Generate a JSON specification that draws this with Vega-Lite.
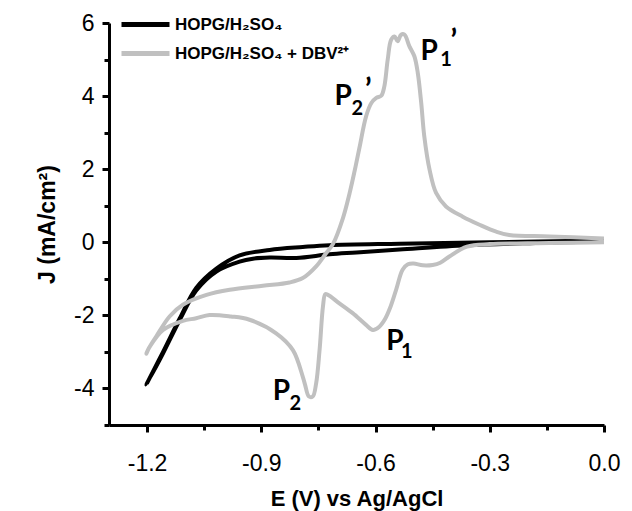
{
  "$schema": "https://vega.github.io/schema/vega-lite/v6.json",
  "width": 495,
  "height": 402,
  "autosize": {"type": "none"},
  "padding": {"left": 109, "top": 23, "right": 28, "bottom": 86},
  "background": "white",
  "config": {"view": {"stroke": null}, "font": "Liberation Sans"},
  "datasets": {
    "cv": [
      {"series": "HOPG/H₂SO₄", "i": 1, "E": 0.0, "J": 0.02},
      {"series": "HOPG/H₂SO₄", "i": 2, "E": -0.18, "J": -0.02},
      {"series": "HOPG/H₂SO₄", "i": 3, "E": -0.362, "J": -0.08},
      {"series": "HOPG/H₂SO₄", "i": 4, "E": -0.537, "J": -0.2},
      {"series": "HOPG/H₂SO₄", "i": 5, "E": -0.65, "J": -0.28},
      {"series": "HOPG/H₂SO₄", "i": 6, "E": -0.721, "J": -0.33},
      {"series": "HOPG/H₂SO₄", "i": 7, "E": -0.808, "J": -0.43},
      {"series": "HOPG/H₂SO₄", "i": 8, "E": -0.878, "J": -0.42},
      {"series": "HOPG/H₂SO₄", "i": 9, "E": -0.922, "J": -0.45},
      {"series": "HOPG/H₂SO₄", "i": 10, "E": -0.957, "J": -0.53},
      {"series": "HOPG/H₂SO₄", "i": 11, "E": -1.018, "J": -0.8},
      {"series": "HOPG/H₂SO₄", "i": 12, "E": -1.071, "J": -1.32},
      {"series": "HOPG/H₂SO₄", "i": 13, "E": -1.114, "J": -2.12},
      {"series": "HOPG/H₂SO₄", "i": 14, "E": -1.158, "J": -3.04},
      {"series": "HOPG/H₂SO₄", "i": 15, "E": -1.202, "J": -3.9},
      {"series": "HOPG/H₂SO₄", "i": 16, "E": -1.195, "J": -3.75},
      {"series": "HOPG/H₂SO₄", "i": 17, "E": -1.158, "J": -3.0},
      {"series": "HOPG/H₂SO₄", "i": 18, "E": -1.114, "J": -2.08},
      {"series": "HOPG/H₂SO₄", "i": 19, "E": -1.071, "J": -1.25},
      {"series": "HOPG/H₂SO₄", "i": 20, "E": -1.018, "J": -0.72},
      {"series": "HOPG/H₂SO₄", "i": 21, "E": -0.957, "J": -0.36},
      {"series": "HOPG/H₂SO₄", "i": 22, "E": -0.878, "J": -0.21},
      {"series": "HOPG/H₂SO₄", "i": 23, "E": -0.791, "J": -0.13},
      {"series": "HOPG/H₂SO₄", "i": 24, "E": -0.721, "J": -0.08},
      {"series": "HOPG/H₂SO₄", "i": 25, "E": -0.537, "J": -0.04},
      {"series": "HOPG/H₂SO₄", "i": 26, "E": -0.3, "J": 0.0},
      {"series": "HOPG/H₂SO₄", "i": 27, "E": 0.0, "J": 0.05},

      {"series": "HOPG/H₂SO₄ + DBV²⁺", "i": 1, "E": 0.0, "J": 0.0},
      {"series": "HOPG/H₂SO₄ + DBV²⁺", "i": 2, "E": -0.143, "J": -0.02},
      {"series": "HOPG/H₂SO₄ + DBV²⁺", "i": 3, "E": -0.2, "J": -0.03},
      {"series": "HOPG/H₂SO₄ + DBV²⁺", "i": 4, "E": -0.3, "J": -0.05},
      {"series": "HOPG/H₂SO₄ + DBV²⁺", "i": 5, "E": -0.36, "J": -0.12},
      {"series": "HOPG/H₂SO₄ + DBV²⁺", "i": 6, "E": -0.406, "J": -0.39},
      {"series": "HOPG/H₂SO₄ + DBV²⁺", "i": 7, "E": -0.43, "J": -0.56},
      {"series": "HOPG/H₂SO₄ + DBV²⁺", "i": 8, "E": -0.45, "J": -0.62},
      {"series": "HOPG/H₂SO₄ + DBV²⁺", "i": 9, "E": -0.476, "J": -0.63},
      {"series": "HOPG/H₂SO₄ + DBV²⁺", "i": 10, "E": -0.5, "J": -0.58},
      {"series": "HOPG/H₂SO₄ + DBV²⁺", "i": 11, "E": -0.515, "J": -0.6},
      {"series": "HOPG/H₂SO₄ + DBV²⁺", "i": 12, "E": -0.529, "J": -0.75},
      {"series": "HOPG/H₂SO₄ + DBV²⁺", "i": 13, "E": -0.546, "J": -1.3},
      {"series": "HOPG/H₂SO₄ + DBV²⁺", "i": 14, "E": -0.562, "J": -1.8},
      {"series": "HOPG/H₂SO₄ + DBV²⁺", "i": 15, "E": -0.575, "J": -2.1},
      {"series": "HOPG/H₂SO₄ + DBV²⁺", "i": 16, "E": -0.59, "J": -2.31},
      {"series": "HOPG/H₂SO₄ + DBV²⁺", "i": 17, "E": -0.607, "J": -2.4},
      {"series": "HOPG/H₂SO₄ + DBV²⁺", "i": 18, "E": -0.625, "J": -2.26},
      {"series": "HOPG/H₂SO₄ + DBV²⁺", "i": 19, "E": -0.66, "J": -1.94},
      {"series": "HOPG/H₂SO₄ + DBV²⁺", "i": 20, "E": -0.695, "J": -1.67},
      {"series": "HOPG/H₂SO₄ + DBV²⁺", "i": 21, "E": -0.725, "J": -1.44},
      {"series": "HOPG/H₂SO₄ + DBV²⁺", "i": 22, "E": -0.732, "J": -1.42},
      {"series": "HOPG/H₂SO₄ + DBV²⁺", "i": 23, "E": -0.738, "J": -1.75},
      {"series": "HOPG/H₂SO₄ + DBV²⁺", "i": 24, "E": -0.747, "J": -2.95},
      {"series": "HOPG/H₂SO₄ + DBV²⁺", "i": 25, "E": -0.756, "J": -3.86},
      {"series": "HOPG/H₂SO₄ + DBV²⁺", "i": 26, "E": -0.765, "J": -4.22},
      {"series": "HOPG/H₂SO₄ + DBV²⁺", "i": 27, "E": -0.775, "J": -4.22},
      {"series": "HOPG/H₂SO₄ + DBV²⁺", "i": 28, "E": -0.785, "J": -3.9},
      {"series": "HOPG/H₂SO₄ + DBV²⁺", "i": 29, "E": -0.791, "J": -3.68},
      {"series": "HOPG/H₂SO₄ + DBV²⁺", "i": 30, "E": -0.817, "J": -2.95},
      {"series": "HOPG/H₂SO₄ + DBV²⁺", "i": 31, "E": -0.861, "J": -2.49},
      {"series": "HOPG/H₂SO₄ + DBV²⁺", "i": 32, "E": -0.931, "J": -2.12},
      {"series": "HOPG/H₂SO₄ + DBV²⁺", "i": 33, "E": -0.98, "J": -2.03},
      {"series": "HOPG/H₂SO₄ + DBV²⁺", "i": 34, "E": -1.036, "J": -1.99},
      {"series": "HOPG/H₂SO₄ + DBV²⁺", "i": 35, "E": -1.071, "J": -2.08},
      {"series": "HOPG/H₂SO₄ + DBV²⁺", "i": 36, "E": -1.106, "J": -2.15},
      {"series": "HOPG/H₂SO₄ + DBV²⁺", "i": 37, "E": -1.158, "J": -2.4},
      {"series": "HOPG/H₂SO₄ + DBV²⁺", "i": 38, "E": -1.193, "J": -2.86},
      {"series": "HOPG/H₂SO₄ + DBV²⁺", "i": 39, "E": -1.202, "J": -3.05},
      {"series": "HOPG/H₂SO₄ + DBV²⁺", "i": 40, "E": -1.198, "J": -2.95},
      {"series": "HOPG/H₂SO₄ + DBV²⁺", "i": 41, "E": -1.176, "J": -2.58},
      {"series": "HOPG/H₂SO₄ + DBV²⁺", "i": 42, "E": -1.141, "J": -2.03},
      {"series": "HOPG/H₂SO₄ + DBV²⁺", "i": 43, "E": -1.106, "J": -1.71},
      {"series": "HOPG/H₂SO₄ + DBV²⁺", "i": 44, "E": -1.044, "J": -1.44},
      {"series": "HOPG/H₂SO₄ + DBV²⁺", "i": 45, "E": -0.983, "J": -1.3},
      {"series": "HOPG/H₂SO₄ + DBV²⁺", "i": 46, "E": -0.896, "J": -1.19},
      {"series": "HOPG/H₂SO₄ + DBV²⁺", "i": 47, "E": -0.826, "J": -1.1},
      {"series": "HOPG/H₂SO₄ + DBV²⁺", "i": 48, "E": -0.791, "J": -0.98},
      {"series": "HOPG/H₂SO₄ + DBV²⁺", "i": 49, "E": -0.756, "J": -0.66},
      {"series": "HOPG/H₂SO₄ + DBV²⁺", "i": 50, "E": -0.73, "J": -0.3},
      {"series": "HOPG/H₂SO₄ + DBV²⁺", "i": 51, "E": -0.712, "J": -0.05},
      {"series": "HOPG/H₂SO₄ + DBV²⁺", "i": 52, "E": -0.686, "J": 0.65},
      {"series": "HOPG/H₂SO₄ + DBV²⁺", "i": 53, "E": -0.668, "J": 1.35},
      {"series": "HOPG/H₂SO₄ + DBV²⁺", "i": 54, "E": -0.655, "J": 1.95},
      {"series": "HOPG/H₂SO₄ + DBV²⁺", "i": 55, "E": -0.642, "J": 2.6},
      {"series": "HOPG/H₂SO₄ + DBV²⁺", "i": 56, "E": -0.625, "J": 3.44},
      {"series": "HOPG/H₂SO₄ + DBV²⁺", "i": 57, "E": -0.611, "J": 3.81},
      {"series": "HOPG/H₂SO₄ + DBV²⁺", "i": 58, "E": -0.598, "J": 3.95},
      {"series": "HOPG/H₂SO₄ + DBV²⁺", "i": 59, "E": -0.585, "J": 4.01},
      {"series": "HOPG/H₂SO₄ + DBV²⁺", "i": 60, "E": -0.577, "J": 4.26},
      {"series": "HOPG/H₂SO₄ + DBV²⁺", "i": 61, "E": -0.568, "J": 5.0},
      {"series": "HOPG/H₂SO₄ + DBV²⁺", "i": 62, "E": -0.559, "J": 5.54},
      {"series": "HOPG/H₂SO₄ + DBV²⁺", "i": 63, "E": -0.55, "J": 5.63},
      {"series": "HOPG/H₂SO₄ + DBV²⁺", "i": 64, "E": -0.542, "J": 5.5},
      {"series": "HOPG/H₂SO₄ + DBV²⁺", "i": 65, "E": -0.533, "J": 5.68},
      {"series": "HOPG/H₂SO₄ + DBV²⁺", "i": 66, "E": -0.524, "J": 5.68},
      {"series": "HOPG/H₂SO₄ + DBV²⁺", "i": 67, "E": -0.511, "J": 5.36},
      {"series": "HOPG/H₂SO₄ + DBV²⁺", "i": 68, "E": -0.498, "J": 5.09},
      {"series": "HOPG/H₂SO₄ + DBV²⁺", "i": 69, "E": -0.489, "J": 4.63},
      {"series": "HOPG/H₂SO₄ + DBV²⁺", "i": 70, "E": -0.48, "J": 3.81},
      {"series": "HOPG/H₂SO₄ + DBV²⁺", "i": 71, "E": -0.472, "J": 2.9},
      {"series": "HOPG/H₂SO₄ + DBV²⁺", "i": 72, "E": -0.458, "J": 1.98},
      {"series": "HOPG/H₂SO₄ + DBV²⁺", "i": 73, "E": -0.441, "J": 1.35},
      {"series": "HOPG/H₂SO₄ + DBV²⁺", "i": 74, "E": -0.415, "J": 0.98},
      {"series": "HOPG/H₂SO₄ + DBV²⁺", "i": 75, "E": -0.371, "J": 0.7},
      {"series": "HOPG/H₂SO₄ + DBV²⁺", "i": 76, "E": -0.327, "J": 0.48},
      {"series": "HOPG/H₂SO₄ + DBV²⁺", "i": 77, "E": -0.283, "J": 0.29},
      {"series": "HOPG/H₂SO₄ + DBV²⁺", "i": 78, "E": -0.249, "J": 0.2},
      {"series": "HOPG/H₂SO₄ + DBV²⁺", "i": 79, "E": -0.143, "J": 0.16},
      {"series": "HOPG/H₂SO₄ + DBV²⁺", "i": 80, "E": 0.0, "J": 0.1}
    ],
    "peaks": [
      {"E": -0.482, "J": 4.99, "t": "P"},
      {"E": -0.708, "J": 3.76, "t": "P"},
      {"E": -0.572, "J": -2.95, "t": "P"},
      {"E": -0.87, "J": -4.31, "t": "P"}
    ],
    "subs": [
      {"E": -0.43, "J": 4.81, "t": "1"},
      {"E": -0.663, "J": 3.49, "t": "2"},
      {"E": -0.533, "J": -3.17, "t": "1"},
      {"E": -0.826, "J": -4.59, "t": "2"}
    ],
    "primes": [
      {"E": -0.403, "J": 5.9, "t": "’"},
      {"E": -0.628, "J": 4.55, "t": "’"}
    ]
  },
  "resolve": {"axis": {"y": "independent"}},
  "layer": [
    {
      "data": {"name": "cv"},
      "mark": {"type": "line", "interpolate": "catmull-rom", "strokeWidth": 4, "clip": true},
      "encoding": {
        "x": {
          "field": "E", "type": "quantitative",
          "scale": {"domain": [-1.3, 0], "nice": false, "zero": false},
          "axis": {
            "title": "E (V) vs Ag/AgCl",
            "values": [-1.2, -1.05, -0.9, -0.75, -0.6, -0.45, -0.3, -0.15, 0],
            "format": ".1f",
            "labelExpr": "abs(round(datum.value*100) % 30) == 0 ? replace(datum.label, '−', '-') : ''",
            "grid": false,
            "domainColor": "#000000", "domainWidth": 3,
            "tickColor": "#000000", "tickWidth": 3,
            "tickSize": {"condition": {"test": "abs(round(datum.value*100) % 30) == 0", "value": 7}, "value": 5},
            "labelFont": "Liberation Sans", "labelFontSize": 23, "labelColor": "#000000",
            "labelPadding": 20, "labelFlush": false, "labelOverlap": false,
            "titleFont": "Liberation Sans", "titleFontSize": 22, "titleFontWeight": "bold", "titleColor": "#000000",
            "titlePadding": 13
          }
        },
        "y": {
          "field": "J", "type": "quantitative",
          "scale": {"domain": [-5, 6], "nice": false, "zero": false},
          "axis": {
            "orient": "left",
            "title": "J (mA/cm²)",
            "values": [-4, -2, 0, 2, 4, 6],
            "format": "d",
            "labelExpr": "replace(datum.label, '−', '-')",
            "grid": false,
            "domainColor": "#000000", "domainWidth": 3,
            "tickColor": "#000000", "tickWidth": 3, "tickSize": 7,
            "labelFont": "Liberation Sans", "labelFontSize": 23, "labelColor": "#000000",
            "labelPadding": 8, "labelOverlap": false, "labelFlush": false,
            "titleFont": "Liberation Sans", "titleFontSize": 23, "titleFontWeight": "bold", "titleColor": "#000000",
            "titlePadding": 14
          }
        },
        "color": {
          "field": "series", "type": "nominal",
          "scale": {"domain": ["HOPG/H₂SO₄", "HOPG/H₂SO₄ + DBV²⁺"], "range": ["#000000", "#c0c0c0"]},
          "legend": {
            "title": null, "orient": "none", "legendX": 10, "legendY": -13,
            "symbolType": "stroke", "symbolStrokeWidth": 5, "symbolSize": 2304,
            "clipHeight": 29,
            "labelFont": "Liberation Sans", "labelFontSize": 17, "labelFontWeight": "bold", "labelColor": "#000000",
            "labelOffset": 3, "labelLimit": 400, "rowPadding": 0, "padding": 0
          }
        },
        "order": {"field": "i", "type": "quantitative"}
      }
    },
    {
      "data": {"name": "peaks"},
      "mark": {"type": "text", "font": "Lato", "fontWeight": "bold", "fontSize": 28, "align": "left", "baseline": "alphabetic", "color": "#000000"},
      "encoding": {
        "x": {"field": "E", "type": "quantitative"},
        "y": {"field": "J", "type": "quantitative",
          "axis": {"orient": "left", "values": [-5, -3, -1, 1, 3, 5], "labels": false, "domain": false, "grid": false, "title": null, "tickColor": "#000000", "tickWidth": 3, "tickSize": 5}},
        "text": {"field": "t"}
      }
    },
    {
      "data": {"name": "subs"},
      "mark": {"type": "text", "font": "Lato", "fontWeight": "bold", "fontSize": 20, "align": "left", "baseline": "alphabetic", "color": "#000000"},
      "encoding": {"x": {"field": "E", "type": "quantitative"}, "y": {"field": "J", "type": "quantitative", "axis": null}, "text": {"field": "t"}}
    },
    {
      "data": {"name": "primes"},
      "mark": {"type": "text", "font": "Lato", "fontWeight": "bold", "fontSize": 30, "align": "left", "baseline": "top", "color": "#000000"},
      "encoding": {"x": {"field": "E", "type": "quantitative"}, "y": {"field": "J", "type": "quantitative", "axis": null}, "text": {"field": "t"}}
    }
  ]
}
